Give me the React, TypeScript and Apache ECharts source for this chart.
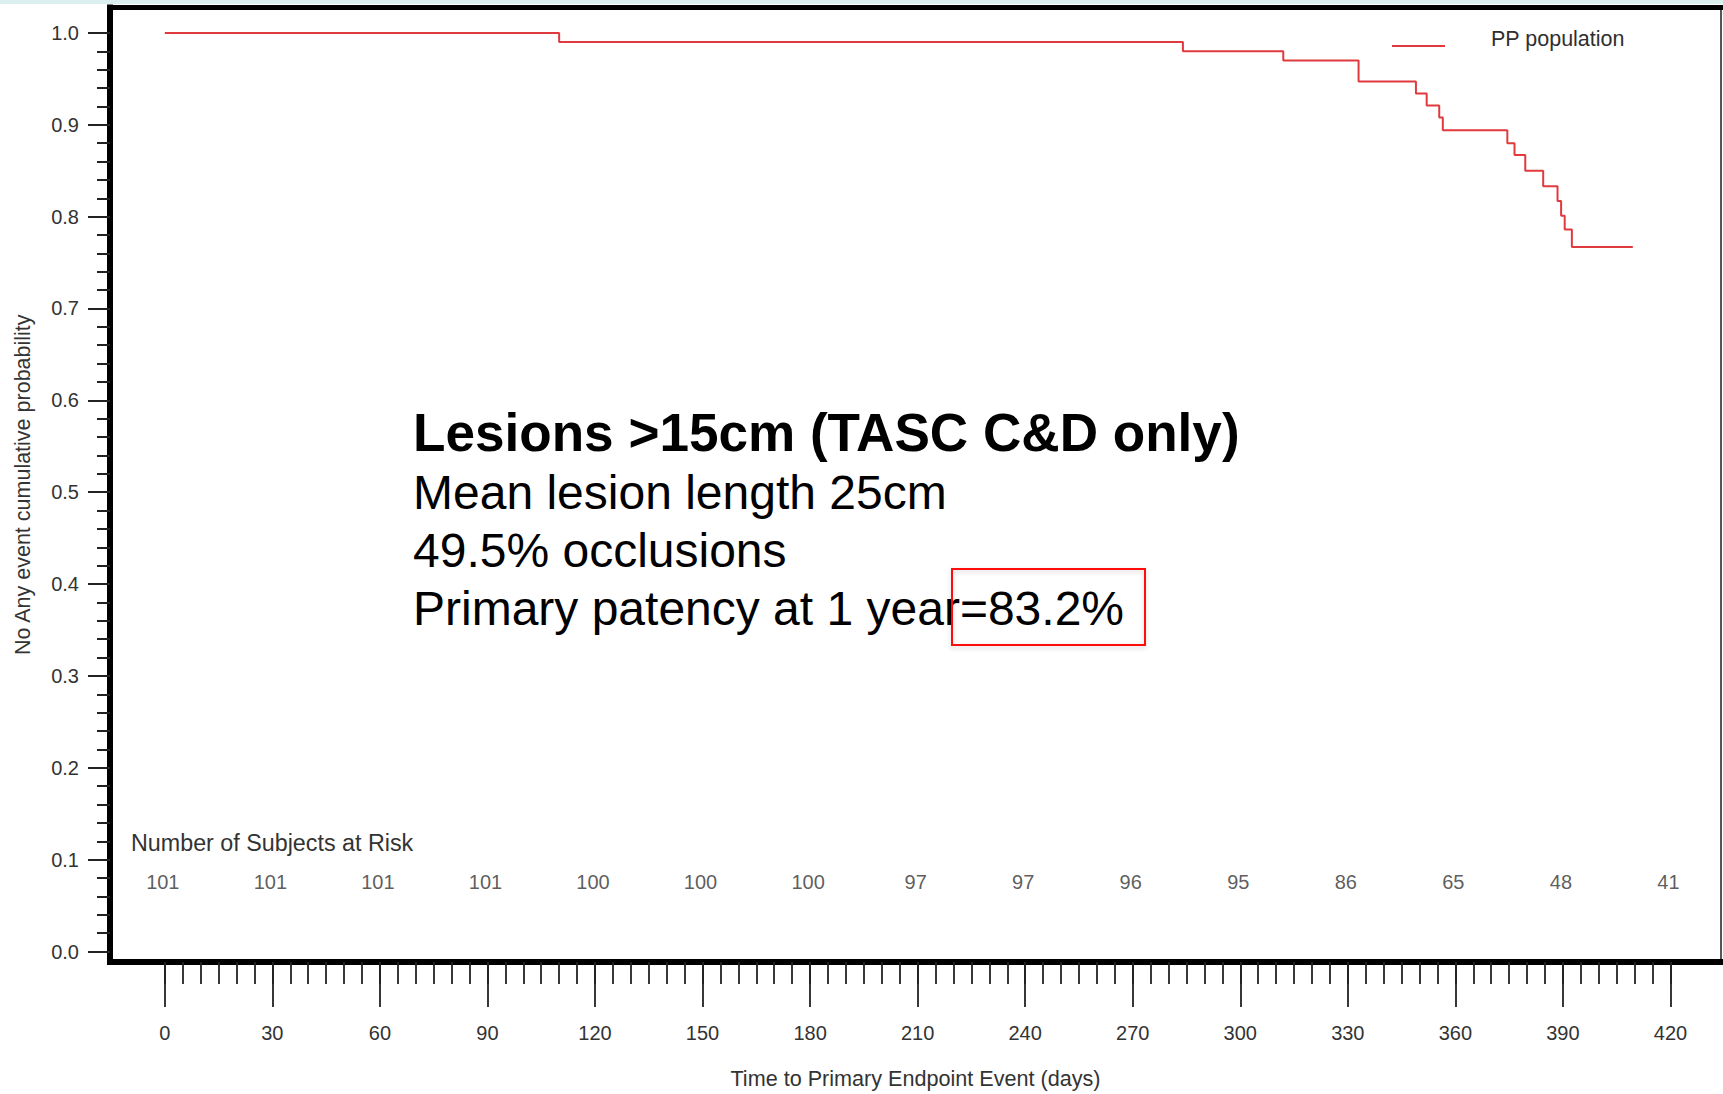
import React, { useEffect, useRef } from "react";
import * as echarts from "echarts";

// Kaplan-Meier estimate: event times (days) and survival after each step
const eventDays = [0, 110, 284, 312, 333, 349, 352, 355.5, 356.5, 374.5, 376.5, 379.5, 384.5, 388.5, 389.5, 390.5, 392.5, 409.5];
const survival = [1.0, 0.99, 0.98, 0.97, 0.947, 0.934, 0.921, 0.908, 0.894, 0.88, 0.867, 0.85, 0.833, 0.817, 0.801, 0.786, 0.767, 0.767];

// Number of subjects at risk, one per labelled day
const riskDays = [0, 30, 60, 90, 120, 150, 180, 210, 240, 270, 300, 330, 360, 390, 420];
const atRisk = [101, 101, 101, 101, 100, 100, 100, 97, 97, 96, 95, 86, 65, 48, 41];

const xMajorTicks = [0, 30, 60, 90, 120, 150, 180, 210, 240, 270, 300, 330, 360, 390, 420];
const yMajorTicks = [0, 0.1, 0.2, 0.3, 0.4, 0.5, 0.6, 0.7, 0.8, 0.9, 1.0];

const seriesName = "PP population";
const riskTitle = "Number of Subjects at Risk";
const xTitle = "Time to Primary Endpoint Event (days)";
const yTitle = "No Any event cumulative probability";
const noteTitle = "Lesions >15cm (TASC C&D only)";
const noteLines = ["Mean lesion length 25cm", "49.5% occlusions", "Primary patency at 1 year=83.2%"];

const FONT = "'Liberation Sans', Arial, Helvetica, sans-serif";

// minor tick positions: every 5 days and every 0.02 of probability
const xMinorTicks: number[] = [];
for (let d = 0; d <= 420; d += 5) xMinorTicks.push(d);
const yMinorTicks: number[] = [];
for (let i = 0; i <= 50; i++) yMinorTicks.push(Math.round(i * 2) / 100);

// legend key: a short line sitting below the text's middle
// (the tiny first square only widens the icon's bounding box upward)
const legendIcon = "path://M0,0h0.01v0.01h-0.01z M0,14h53v2h-53z";

export default function App() {
  const ref = useRef<HTMLDivElement>(null);

  useEffect(() => {
    if (!ref.current) return;
    const chart = echarts.init(ref.current, undefined, { renderer: "svg" });

    const xMin = -15.29;
    const xMax = 434.1;
    const yMin = -0.01139;
    const yMax = 1.02766;

    const option: echarts.EChartsOption = {
      animation: false,
      backgroundColor: "#ffffff",
      textStyle: { fontFamily: FONT },
      grid: { left: 110, right: 2, top: 7.5, bottom: 128.5, containLabel: false },
      legend: {
        data: [seriesName],
        left: 1392,
        top: 28,
        padding: 0,
        icon: legendIcon,
        itemWidth: 53,
        itemHeight: 16,
        textStyle: { fontSize: 21.5, color: "#2f2f2f", fontFamily: FONT, padding: [0, 0, 0, 41] },
      },
      xAxis: [
        {
          type: "value",
          position: "bottom",
          min: xMin,
          max: xMax,
          name: xTitle,
          nameLocation: "middle",
          nameGap: 105,
          nameTextStyle: { fontSize: 21.6, color: "#333", fontFamily: FONT },
          splitLine: { show: false },
          axisLine: { show: true, onZero: false, lineStyle: { color: "#000", width: 6, cap: "square" } },
          axisTick: { show: true, customValues: xMajorTicks, length: 45, lineStyle: { color: "#222", width: 1.8 } },
          axisLabel: {
            show: true,
            customValues: xMajorTicks,
            margin: 61,
            fontSize: 20,
            color: "#333",
            fontFamily: FONT,
          },
        },
        {
          type: "value",
          position: "bottom",
          min: xMin,
          max: xMax,
          splitLine: { show: false },
          axisLine: { show: false, onZero: false },
          axisTick: { show: true, customValues: xMinorTicks, length: 22, lineStyle: { color: "#222", width: 1.8 } },
          axisLabel: { show: false },
        },
        {
          type: "value",
          position: "top",
          min: xMin,
          max: xMax,
          splitLine: { show: false },
          axisLine: { show: true, onZero: false, lineStyle: { color: "#000", width: 5, cap: "square" } },
          axisTick: { show: false },
          axisLabel: { show: false },
        },
      ],
      yAxis: [
        {
          type: "value",
          position: "left",
          min: yMin,
          max: yMax,
          name: yTitle,
          nameLocation: "middle",
          nameRotate: 90,
          nameGap: 76,
          nameTextStyle: { fontSize: 21.5, color: "#333", fontFamily: FONT },
          splitLine: { show: false },
          axisLine: { show: true, onZero: false, lineStyle: { color: "#000", width: 6, cap: "square" } },
          axisTick: { show: true, customValues: yMajorTicks, length: 22, lineStyle: { color: "#222", width: 2 } },
          axisLabel: {
            show: true,
            customValues: yMajorTicks,
            margin: 31,
            fontSize: 20,
            color: "#333",
            fontFamily: FONT,
            formatter: (v: number) => v.toFixed(1),
          },
        },
        {
          type: "value",
          position: "left",
          min: yMin,
          max: yMax,
          splitLine: { show: false },
          axisLine: { show: false, onZero: false },
          axisTick: { show: true, customValues: yMinorTicks, length: 13, lineStyle: { color: "#222", width: 2 } },
          axisLabel: { show: false },
        },
        {
          type: "value",
          position: "right",
          min: yMin,
          max: yMax,
          splitLine: { show: false },
          axisLine: { show: true, onZero: false, lineStyle: { color: "#555", width: 2 } },
          axisTick: { show: false },
          axisLabel: { show: false },
        },
      ],
      series: [
        {
          name: seriesName,
          type: "line",
          step: "end",
          xAxisIndex: 0,
          yAxisIndex: 0,
          symbol: "none",
          showSymbol: false,
          lineStyle: { color: "#e03a3e", width: 2 },
          itemStyle: { color: "#e03a3e" },
          data: eventDays.map((d, i) => [d, survival[i]]),
          z: 5,
        },
        {
          name: "atRisk",
          type: "scatter",
          xAxisIndex: 0,
          yAxisIndex: 0,
          symbolSize: 0.1,
          itemStyle: { color: "rgba(0,0,0,0)" },
          label: {
            show: true,
            position: "inside",
            offset: [-2, 0],
            fontSize: 20,
            color: "#333",
            fontFamily: FONT,
            formatter: (p: any) => String(p.value[2]),
          },
          data: riskDays.map((d, i) => [d, 0.0762, atRisk[i]]),
          z: 4,
        },
      ],
      graphic: [
        {
          type: "rect",
          left: 0,
          top: 0,
          shape: { x: 0, y: 0, width: 1723, height: 4 },
          style: { fill: "#dcefef" },
          z: 0,
        },
        {
          type: "text",
          x: 131,
          y: 843,
          style: {
            text: riskTitle,
            fontSize: 23.3,
            fontFamily: FONT,
            fill: "#333",
            verticalAlign: "middle",
            textVerticalAlign: "middle",
          } as any,
        },
        {
          type: "text",
          x: 413,
          y: 432,
          style: {
            text: noteTitle,
            fontSize: 53.1,
            fontWeight: "bold",
            fontFamily: FONT,
            fill: "#000",
            verticalAlign: "middle",
            textVerticalAlign: "middle",
          } as any,
        },
        ...noteLines.map((t, i) => ({
          type: "text" as const,
          x: 413,
          y: [492, 550, 608][i],
          style: {
            text: t,
            fontSize: 48,
            fontFamily: FONT,
            fill: "#000",
            verticalAlign: "middle",
            textVerticalAlign: "middle",
          } as any,
        })),
        {
          type: "rect",
          shape: { x: 952, y: 569, width: 193, height: 76 },
          style: {
            fill: "none",
            stroke: "#ff1010",
            lineWidth: 2,
            shadowBlur: 5,
            shadowColor: "rgba(0,0,0,0.18)",
            shadowOffsetY: 2,
          },
          z: 10,
        },
      ],
    };

    chart.setOption(option);
    return () => chart.dispose();
  }, []);

  return (
    <div
      ref={ref}
      style={{ position: "absolute", left: 0, top: 0, width: 1723, height: 1094, background: "#fff" }}
    />
  );
}
